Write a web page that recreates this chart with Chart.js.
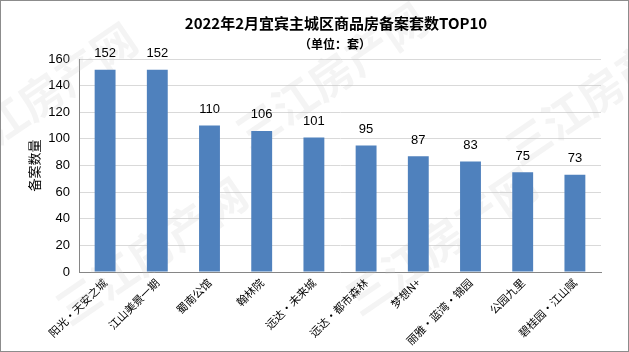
<!DOCTYPE html>
<html><head><meta charset="utf-8">
<script src="https://cdn.jsdelivr.net/npm/chart.js@4"></script>
<style>
html,body{margin:0;padding:0;background:#fff;}
#wrap{position:absolute;left:0;top:0;width:627px;height:350px;border:1px solid #8c8c8c;}
canvas{display:block;}
</style></head><body>
<div id="wrap"><canvas id="c" width="627" height="350"></canvas></div>
<script>
const categories = ["阳光·天安之城","江山美景一期","蜀南公馆","翰林院","远达·未来城","远达·都市森林","梦想N+","丽雅·蓝湾·锦园","公园九里","碧桂园·江山赋"];
const values = [152,152,110,106,101,95,87,83,75,73];
const yTicks = [0,20,40,60,80,100,120,140,160];
const titleText = "2022年2月宜宾主城区商品房备案套数TOP10";
const subtitleText = "（单位：套）";
const yTitle = "备案数量";
const watermark = "三江房产网";

const FONT = "'Microsoft YaHei','Noto Sans CJK SC','DejaVu Sans',sans-serif";

const bgPlugin = {
  id:'wm',
  beforeDatasetsDraw(chart){
    const ctx = chart.ctx;
    ctx.save();
    ctx.fillStyle = 'rgba(200,200,200,0.2)';
    ctx.font = "bold 44px " + FONT;
    ctx.textAlign='center'; ctx.textBaseline='middle';
    [[40,95],[330,75],[600,90],[150,250],[440,240]].forEach(p=>{
      ctx.save(); ctx.translate(p[0],p[1]); ctx.rotate(-0.6); ctx.fillText(watermark,0,0); ctx.restore();
    });
    ctx.restore();
  }
};

const labelPlugin = {
  id:'vals',
  afterDatasetsDraw(chart){
    const ctx = chart.ctx;
    const meta = chart.getDatasetMeta(0);
    ctx.save();
    ctx.font = "13px 'Liberation Sans', Arial, sans-serif";
    ctx.fillStyle = '#000';
    ctx.textAlign = 'center';
    ctx.textBaseline = 'middle';
    meta.data.forEach((b,i)=>{
      ctx.fillText(String(values[i]), b.x, b.y - 16);
    });
    ctx.restore();
  },
  afterDraw(chart){
    const ctx = chart.ctx;
    ctx.save();
    ctx.fillStyle = '#000';
    ctx.textAlign = 'center';
    ctx.textBaseline = 'middle';
    ctx.font = "bold 15px " + FONT;
    ctx.fillText(titleText, 335, 22);
    ctx.font = "bold 12px " + FONT;
    ctx.fillText(subtitleText, 334, 43);
    ctx.restore();
  }
};

new Chart(document.getElementById('c'), {
  type:'bar',
  data:{labels:categories, datasets:[{data:values, backgroundColor:'#4f81bd', barPercentage:0.8, categoryPercentage:0.5}]},
  options:{
    responsive:false, animation:false,
    layout:{padding:{top:58,right:27,left:0,bottom:0}},
    plugins:{
      legend:{display:false}, tooltip:{enabled:false},
      title:{display:false}
    },
    scales:{
      x:{
        grid:{display:false, drawTicks:false},
        border:{color:'#868686'},
        ticks:{color:'#000', font:{family:FONT, size:11}, maxRotation:45, minRotation:45, autoSkip:false, padding:4},
        afterFit(s){ s.height = 79; }
      },
      y:{
        min:0, max:160,
        afterBuildTicks(s){ s.ticks = yTicks.map(v=>({value:v})); },
        grid:{color:'#d9d9d9', drawTicks:false},
        border:{color:'#868686'},
        ticks:{color:'#000', font:{family:"'Liberation Sans',Arial,sans-serif", size:13}, padding:9},
        title:{display:true, text:yTitle, color:'#000', font:{family:FONT, size:13}, padding:{top:25,bottom:0}},
        afterFit(s){ s.width = 78; }
      }
    }
  },
  plugins:[bgPlugin, labelPlugin]
});
</script>
</body></html>
